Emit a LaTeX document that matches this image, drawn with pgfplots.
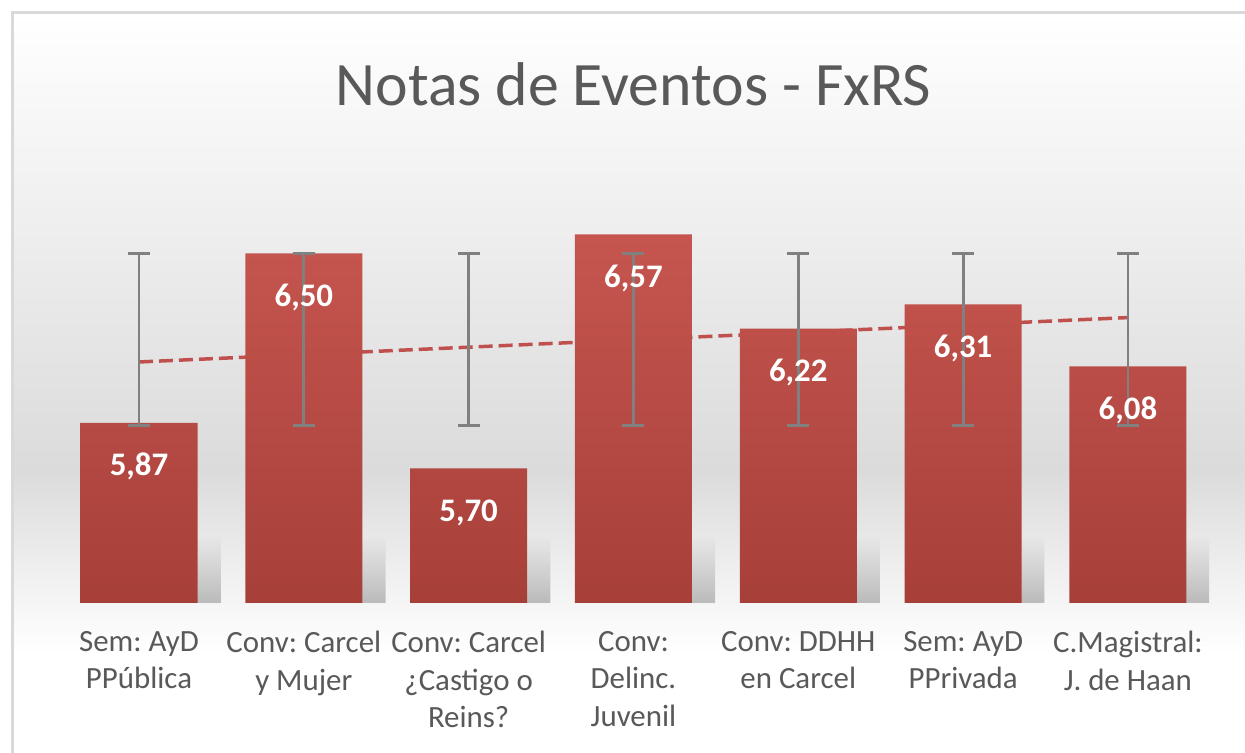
\documentclass[border=0pt]{standalone}
\usepackage{pgfplots}
\pgfplotsset{compat=1.18}
\usepackage{pgfplotstable}
\usetikzlibrary{fadings}
\usepackage{fontspec}
\setmainfont{Carlito}
\frenchspacing
\definecolor{txt}{HTML}{595959}
\definecolor{bartop}{HTML}{C6554F}
\definecolor{barbot}{HTML}{A73F39}
\definecolor{trend}{HTML}{C0504D}
\definecolor{errc}{HTML}{808080}
\definecolor{bgmid}{HTML}{DBDBDB}
\definecolor{frame}{HTML}{D9D9D9}

\pgfplotstableread{
x y lab
0 5.87 {5,87}
1 6.50 {6,50}
2 5.70 {5,70}
3 6.57 {6,57}
4 6.22 {6,22}
5 6.31 {6,31}
6 6.08 {6,08}
}\bars

\pgfplotstableread{
x y e
0 6.179 0.319
1 6.179 0.319
2 6.179 0.319
3 6.179 0.319
4 6.179 0.319
5 6.179 0.319
6 6.179 0.319
}\errs

\begin{document}
\begin{tikzpicture}[x=1bp,y=1bp]
\useasboundingbox (0,0) rectangle (1245,753);
\fill[white] (0,0) rectangle (1245,753);
\shade[top color=white, bottom color=bgmid] (12,283) rectangle (1260,740);
\shade[top color=bgmid, bottom color=white] (12,100) rectangle (1260,283.5);
\draw[frame, line width=3bp] (12,-20) -- (12,740) -- (1300,740);
\node[anchor=base, text=txt, font=\fontsize{62}{62}\selectfont] at (633.5,647) {Notas de Eventos - FxRS};
\begin{axis}[
  at={(56.6bp,150bp)}, anchor=south west,
  scale only axis, width=1153.8bp, height=403.5bp,
  xmin=-0.5, xmax=6.5, ymin=5.2, ymax=6.7,
  y coord trafo/.code={\pgfmathparse{#1-5.2}},
  y coord inv trafo/.code={\pgfmathparse{#1+5.2}},
  clip=false,
  axis line style={draw=none},
  major tick length=0pt,
  ytick=\empty,
  xtick={0,1,2,3,4,5,6},
  xticklabels={{Sem: AyD\\PPública},{Conv: Carcel\\y Mujer},{Conv: Carcel\\¿Castigo o\\Reins?},{Conv:\\Delinc.\\Juvenil},{Conv: DDHH\\en Carcel},{Sem: AyD\\PPrivada},{C.Magistral:\\J. de Haan}},
  xticklabel style={align=center, anchor=north, text=txt, font=\fontsize{31}{37.5}\selectfont, yshift=-25bp},
]
% shadows
\addplot[ybar, bar width=117bp, bar shift=24bp, draw=none, fill=black!55, fill opacity=0.45, path fading=north] coordinates {(0,5.45) (1,5.45) (2,5.45) (3,5.45) (4,5.45) (5,5.45) (6,5.45)};
% trend line
\addplot[trend, line width=3.5bp, dash pattern=on 14bp off 6bp, mark=none] coordinates {(0,6.096) (6,6.261)};
% bars
\addplot[ybar, bar width=117bp, bar shift=0pt, draw=none, top color=bartop, bottom color=barbot] table[x=x,y=y]{\bars};
% error bars
\addplot[draw=none, mark=none, forget plot,
  error bars/.cd, y dir=both, y explicit,
  error bar style={errc, line width=2.8bp},
  error mark options={errc, rotate=90, mark size=11bp, line width=2.8bp}]
  table[x=x,y=y,y error=e]{\errs};
% labels
\addplot[draw=none, mark=none, nodes near coords, point meta=explicit symbolic,
  nodes near coords style={anchor=base, yshift=-53bp, text=white, font=\fontsize{33}{33}\bfseries\selectfont}]
  table[x=x,y=y,meta=lab]{\bars};
\end{axis}
\end{tikzpicture}
\end{document}
